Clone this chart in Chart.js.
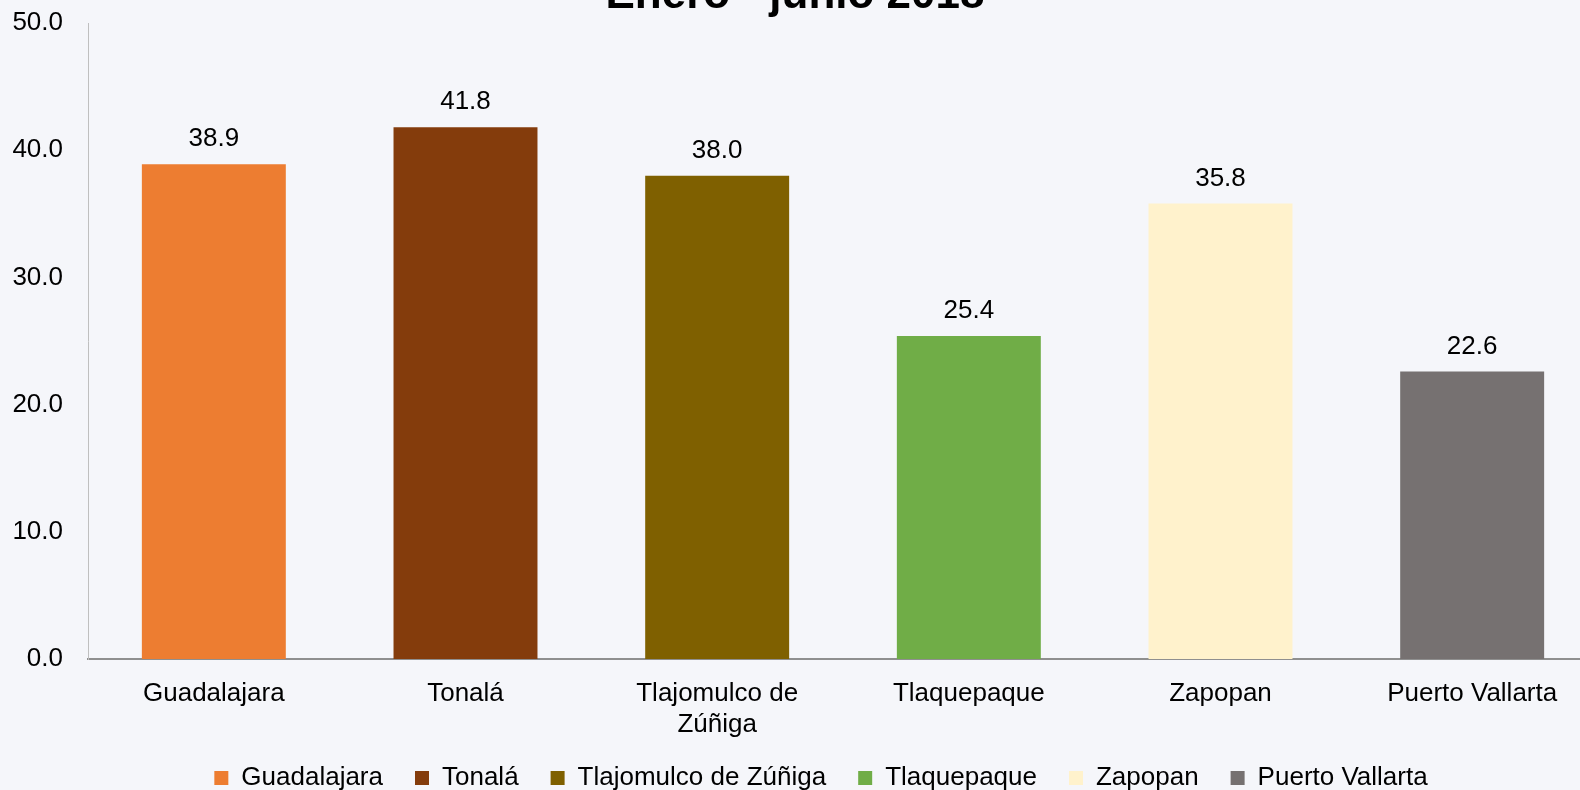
<!DOCTYPE html>
<html>
<head>
<meta charset="utf-8">
<script src="https://cdn.jsdelivr.net/npm/chart.js@4.4.1/dist/chart.umd.min.js"></script>
<style>
  html, body { margin: 0; padding: 0; background: #F5F6FA; overflow: hidden; }
  canvas { display: block; }
</style>
</head>
<body>
<canvas id="chart" width="1598" height="790"></canvas>
<script>
// ---- DATA ----
const titleText = "Enero - junio 2018";
const categories = ["Guadalajara", "Tonalá", ["Tlajomulco de", "Zúñiga"], "Tlaquepaque", "Zapopan", "Puerto Vallarta"];
const legendNames = ["Guadalajara", "Tonalá", "Tlajomulco de Zúñiga", "Tlaquepaque", "Zapopan", "Puerto Vallarta"];
const values = [38.9, 41.8, 38.0, 25.4, 35.8, 22.6];
const colors = ["#ED7D31", "#843C0C", "#7F6000", "#70AD47", "#FFF2CC", "#767171"];

const FONT = "'Liberation Sans', Arial, sans-serif";

// ---- TITLE (cut at the top like the original) ----
const titlePlugin = {
  id: "cutTitle",
  afterDraw(chart) {
    const ctx = chart.ctx;
    ctx.save();
    ctx.font = "bold 44px " + FONT;
    ctx.fillStyle = "#000";
    ctx.textAlign = "center";
    ctx.textBaseline = "alphabetic";
    ctx.fillText(titleText, 795, 8);
    ctx.restore();
  }
};

// ---- LEGEND SHIFT (legend sits a bit right of centre and higher) ----
const legendShift = {
  id: "legendShift",
  afterLayout(chart) {
    const lg = chart.legend;
    if (lg) {
      lg.left += 22;
      lg.right += 22;
      lg.top -= 16;
      lg.bottom -= 16;
    }
  }
};

// ---- VALUE LABELS ----
const valueLabels = {
  id: "valueLabels",
  afterDatasetsDraw(chart) {
    const ctx = chart.ctx;
    const meta = chart.getDatasetMeta(0);
    ctx.save();
    ctx.font = "26px " + FONT;
    ctx.fillStyle = "#000";
    ctx.textAlign = "center";
    ctx.textBaseline = "alphabetic";
    meta.data.forEach((bar, i) => {
      ctx.fillText(values[i].toFixed(1), bar.x, bar.y - 18);
    });
    ctx.restore();
  }
};

new Chart(document.getElementById("chart"), {
  type: "bar",
  data: {
    labels: categories,
    datasets: [{
      data: values,
      backgroundColor: colors,
      barPercentage: 0.572,
      categoryPercentage: 1
    }]
  },
  options: {
    responsive: false,
    animation: false,
    layout: { padding: { left: 0, right: 0, top: 23, bottom: -27 } },
    plugins: {
      tooltip: { enabled: false },
      legend: {
        position: "bottom",
        labels: {
          color: "#000",
          font: { family: FONT, size: 26 },
          boxWidth: 14,
          boxHeight: 14,
          padding: 32,
          generateLabels() {
            return legendNames.map((n, i) => ({
              text: n,
              fillStyle: colors[i],
              strokeStyle: colors[i],
              lineWidth: 0,
              hidden: false,
              index: i
            }));
          }
        },
        onClick: null
      }
    },
    scales: {
      x: {
        grid: { display: false, drawTicks: false },
        border: { display: true, color: "#8F8F8F", width: 2 },
        ticks: {
          color: "#000",
          font: { family: FONT, size: 26 },
          padding: 19,
          maxRotation: 0,
          autoSkip: false
        },
        afterFit(scale) { scale.height = 90; }
      },
      y: {
        min: 0,
        max: 50,
        grid: { display: false, drawTicks: false },
        border: { display: true, color: "#BFBFBF", width: 1 },
        ticks: {
          stepSize: 10,
          color: "#000",
          font: { family: FONT, size: 26 },
          padding: 25,
          callback: v => v.toFixed(1)
        },
        afterFit(scale) {
          scale.width = 88;
          scale.paddingTop = 0;
          scale.paddingBottom = 0;
        }
      }
    }
  },
  plugins: [titlePlugin, valueLabels, legendShift]
});
</script>
</body>
</html>
